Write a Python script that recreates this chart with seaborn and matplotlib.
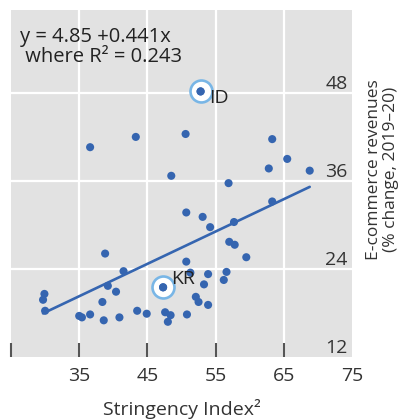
import numpy as np
import pandas as pd
import matplotlib
matplotlib.use("Agg")
import matplotlib.pyplot as plt
import seaborn as sns

# values
stringency = [36.6, 43.3, 50.6, 48.5, 50.7, 53.1, 38.8, 50.7, 41.5, 51.3,
              29.9, 29.7, 30.0, 39.2, 40.4, 38.4, 35.0, 35.4, 36.6, 38.6,
              40.9, 43.5, 44.9, 47.6, 48.4, 48.0, 50.8, 52.1, 52.5, 63.3,
              65.5, 62.8, 68.8, 56.9, 63.3, 54.2, 57.7, 57.0, 57.8, 59.5,
              53.9, 56.6, 56.2, 53.3, 53.9]
revenue = [40.6, 42.0, 42.4, 36.7, 31.7, 31.1, 26.1, 25.0, 23.7, 23.5,
           20.6, 19.8, 18.3, 21.7, 20.9, 19.5, 17.6, 17.4, 17.8, 17.0,
           17.4, 18.3, 17.9, 18.1, 17.7, 16.8, 17.8, 20.2, 19.5, 41.7,
           39.0, 37.7, 37.4, 35.7, 33.2, 29.7, 30.4, 27.7, 27.3, 25.6,
           23.3, 23.6, 22.5, 21.9, 19.1]

hl_codes = ["ID", "KR"]
hl_x = [52.8, 47.3]
hl_y = [48.2, 21.5]

intercept = 4.85
slope = 0.441
r_squared = 0.243

x_ticks = [25, 35, 45, 55, 65, 75]
x_tick_labels = ["", "35", "45", "55", "65", "75"]
y_ticks = [12, 24, 36, 48]

blue = "#3565b0"
ring = "#79b6e6"

sns.set_theme(style="darkgrid", rc={"axes.facecolor": "#e2e2e2"})
plt.rcParams["font.family"] = ["Open Sans", "DejaVu Sans"]

df = pd.DataFrame({"x": stringency + hl_x, "y": revenue + hl_y})
hl = pd.DataFrame({"x": hl_x, "y": hl_y, "code": hl_codes})

fig = plt.figure(figsize=(4.03, 4.19), dpi=100)
ax = fig.add_axes([11 / 403, 1 - 357 / 419, 341 / 403, 347 / 419])
ax.grid(False)

# white grid drawn by hand so the tick marks sit on top of it
for xv in x_ticks[1:-1]:
    ax.axvline(xv, color="white", linewidth=1.6, zorder=0.3)
for yv in y_ticks[1:]:
    ax.axhline(yv, color="white", linewidth=1.6, zorder=0.3)

sns.scatterplot(data=df, x="x", y="y", ax=ax, color=blue, s=34,
                edgecolor="none", zorder=3)

# highlighted economies: ring around the dot
sns.scatterplot(data=hl, x="x", y="y", ax=ax, s=250, facecolor="white",
                edgecolor=ring, linewidth=1.9, zorder=2)
sns.scatterplot(data=hl, x="x", y="y", ax=ax, color=blue, s=34,
                edgecolor="none", zorder=4)
offsets = {"ID": (6, -5), "KR": (6, 6)}
for _, r in hl.iterrows():
    ax.annotate(r["code"], (r["x"], r["y"]), xytext=offsets[r["code"]],
                textcoords="offset points", fontsize=14, color="#222222",
                ha="left", va="center", zorder=5)

# fitted line from the reported coefficients
fit_x = np.array([min(df["x"]), max(df["x"])])
fit = pd.DataFrame({"x": fit_x, "y": intercept + slope * fit_x})
sns.lineplot(data=fit, x="x", y="y", ax=ax, color=blue, linewidth=1.9,
             zorder=3)

ax.text(0.026, 0.95,
        f"y = {intercept:.2f} +{slope:.3f}x\n where R\u00b2 = {r_squared:.3f}",
        transform=ax.transAxes, ha="left", va="top", fontsize=14.5,
        color="#222222", linespacing=1.0)

ax.set_xlim(25, 75)
ax.set_ylim(12, 59.3)
ax.set_xticks(x_ticks)
ax.set_xticklabels(x_tick_labels)
ax.set_yticks(y_ticks)
for s in ax.spines.values():
    s.set_visible(False)

ax.tick_params(axis="x", direction="in", length=10, width=1.5,
               color="#555555", pad=7, labelsize=14, labelcolor="#333333",
               bottom=True)
ax.xaxis.get_major_ticks()[-1].tick1line.set_visible(False)

ax.yaxis.tick_right()
ax.tick_params(axis="y", length=0, pad=-3, labelsize=14,
               labelcolor="#333333", labelleft=False, labelright=True)
for lab in ax.get_yticklabels():
    lab.set_ha("right")
    lab.set_va("bottom")

ax.set_xlabel("Stringency Index\u00b2", fontsize=14, color="#333333",
              labelpad=10)
ax.yaxis.set_label_position("right")
ax.set_ylabel("E-commerce revenues\n(% change, 2019\u201320)", fontsize=12.5,
              color="#333333", rotation=90, linespacing=1.1)
ax.yaxis.set_label_coords(1.09, 0.54)
ax.yaxis.label.set_va("center")
ax.yaxis.label.set_ha("center")

fig.savefig("out.png", dpi=100)
